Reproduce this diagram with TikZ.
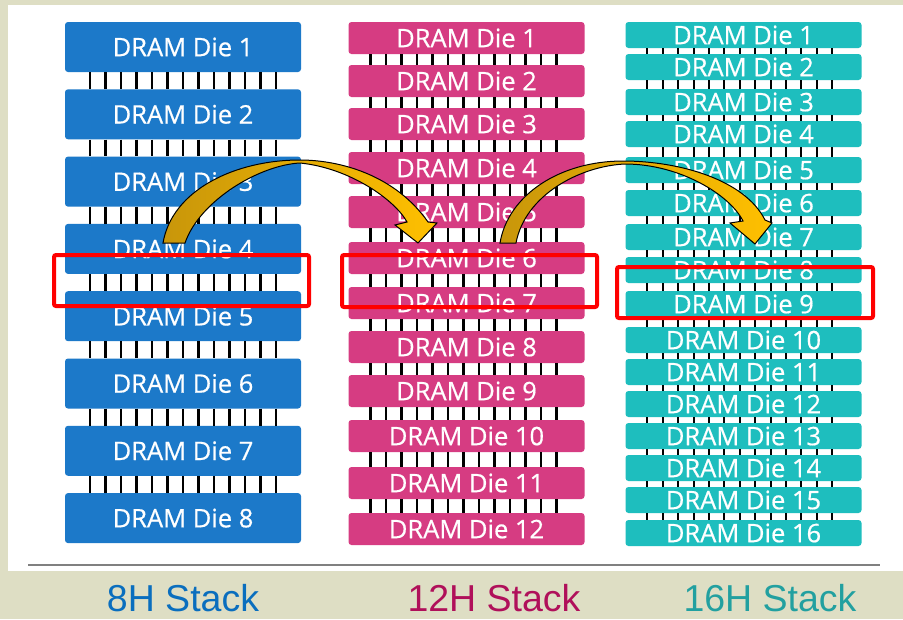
\documentclass[tikz,border=0pt]{standalone}
\usepackage{fontspec}
\setmainfont{Liberation Sans}
\newfontfamily\diefont[FakeBold=0.6]{Open Sans}
\definecolor{pagebg}{HTML}{DEDEC4}
\definecolor{dieblue}{HTML}{1C79C9}
\definecolor{diepink}{HTML}{D63C82}
\definecolor{dieteal}{HTML}{1EBEBE}
\definecolor{lblblue}{HTML}{0A6EBE}
\definecolor{lblpink}{HTML}{B0105A}
\definecolor{lblteal}{HTML}{22A0A0}
\definecolor{arrowdark}{HTML}{C8960A}
\definecolor{arrowlight}{HTML}{FFC000}
\tikzset{
  die/.style={rounded corners=3pt, minimum width=236pt, inner sep=0pt,
    text=white, font=\diefont\fontsize{25.5}{30}\selectfont},
  bluedie/.style={die, fill=dieblue, minimum height=50pt},
  pinkdie/.style={die, fill=diepink, minimum height=32pt},
  tealdie/.style={die, fill=dieteal, minimum height=26pt},
  pin/.style={line width=2.4pt, black},
  frame/.style={draw=red, line width=4pt, rounded corners=2pt},
  hop/.style={draw=black, line width=1pt, left color=arrowdark, right color=arrowlight},
  stacklabel/.style={anchor=base, inner sep=0pt, font=\fontsize{37.5}{40}\selectfont}
}
\begin{document}
\begin{tikzpicture}[x=1pt,y=-1pt]
\useasboundingbox (0,0) rectangle (903,619);
\fill[pagebg] (0,0) rectangle (903,619);
\fill[white] (8,5) rectangle (903,571);
\draw[gray, line width=1.5pt] (28,565) -- (880,565);
% 8H stack
\foreach \i in {1,...,8}
  \node[bluedie] (b\i) at (183,{47+67.3*(\i-1)}) {DRAM Die \i};
\foreach \i [evaluate=\i as \j using int(\i+1)] in {1,...,7}
  \foreach \k in {0,...,12}
    \draw[pin] ([xshift=25+15.5*\k]b\i.south west) -- ([xshift=25+15.5*\k]b\j.north west);
% 12H stack
\foreach \i/\y in {1/38,2/81,3/124,4/168,5/212,6/258,7/303,8/347,9/391,10/436,11/483,12/529}
  \node[pinkdie] (p\i) at (466.5,\y) {DRAM Die \i};
\foreach \i [evaluate=\i as \j using int(\i+1)] in {1,...,11}
  \foreach \k in {0,...,12}
    \draw[pin] ([xshift=22+15.5*\k]p\i.south west) -- ([xshift=22+15.5*\k]p\j.north west);
% 16H stack
\foreach \i/\y in {1/35,2/67,3/102,4/134,5/170,6/203,7/237,8/270,9/304,10/340,11/372,12/404,13/436,14/468,15/500,16/533}
  \node[tealdie] (t\i) at (743.5,\y) {DRAM Die \i};
\foreach \i [evaluate=\i as \j using int(\i+1)] in {1,...,15}
  \foreach \k in {0,...,12}
    \draw[pin, line width=2pt] ([xshift=22+15.4*\k]t\i.south west) -- ([xshift=22+15.4*\k]t\j.north west);
% highlighted gaps
\draw[frame] (54,255) rectangle (309,306);
\draw[frame] (342,255) rectangle (597,307);
\draw[frame] (617,267) rectangle (873,318);
% curved arrows
\path[hop] (163,243) .. controls (172,190) and (235,160) .. (300,160)
  .. controls (340,160) and (395,175) .. (428,222) -- (437,223) -- (418,243) -- (395,225) -- (407,222)
  .. controls (395,200) and (350,168) .. (300,163)
  .. controls (260,165) and (200,200) .. (185,243) -- cycle;
\path[hop] (500,243) .. controls (508,195) and (560,161) .. (623,161)
  .. controls (680,161) and (745,180) .. (765,220) -- (772,223) -- (755,244) -- (730,223) -- (743,221)
  .. controls (730,195) and (680,164) .. (625,164)
  .. controls (580,166) and (525,195) .. (516,243) -- cycle;
% labels
\node[stacklabel, text=lblblue] (s8) at (183,611) {8H Stack};
\node[stacklabel, text=lblpink] (s12) at (494,611) {12H Stack};
\node[stacklabel, text=lblteal] (s16) at (770,611) {16H Stack};
\end{tikzpicture}
\end{document}
